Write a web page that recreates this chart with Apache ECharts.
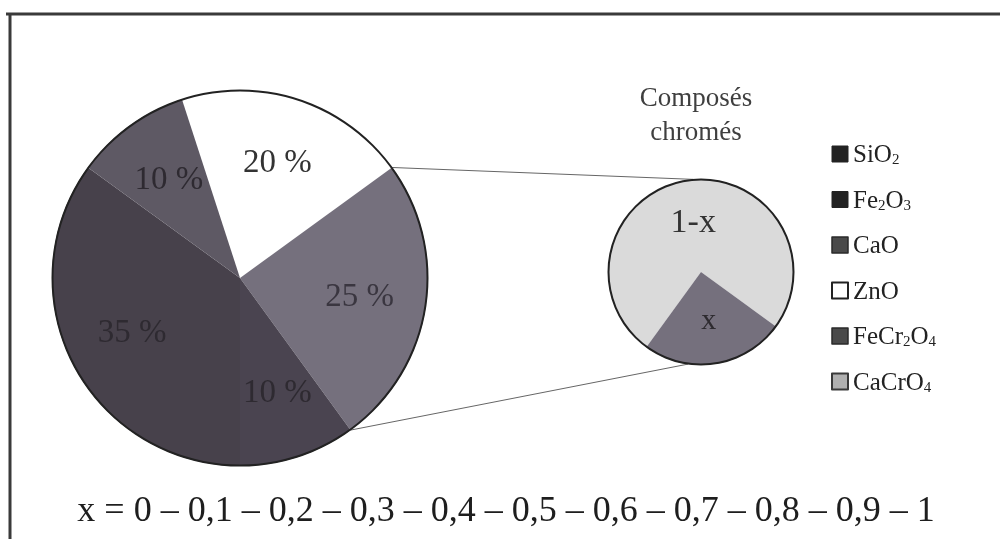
<!DOCTYPE html>
<html>
<head>
<meta charset="utf-8">
<script src="https://cdn.jsdelivr.net/npm/echarts@6/dist/echarts.min.js"></script>
<style>
html,body{margin:0;padding:0;background:#fff;}
#chart{width:1000px;height:539px;}
</style>
</head>
<body>
<div id="chart"></div>
<script>
// ---- data ----
const mainNames = ['ZnO', 'Composés chromés', 'Fe2O3', 'SiO2', 'CaO'];
const mainValues = [20, 25, 10, 35, 10];
const smallNames = ['CaCrO4', 'FeCr2O4'];
const smallValues = [0.75, 0.25];
const smallLabels = ['1-x', 'x'];
const legendNames = ['SiO2', 'Fe2O3', 'CaO', 'ZnO', 'FeCr2O4', 'CaCrO4'];
const xSteps = ['0', '0,1', '0,2', '0,3', '0,4', '0,5', '0,6', '0,7', '0,8', '0,9', '1'];

// ---- styles / layout ----
const FONT = "'Liberation Serif', 'DejaVu Serif', serif";
const sliceColors = {
  'ZnO': '#ffffff', 'Composés chromés': '#75707d', 'Fe2O3': '#4a4450',
  'SiO2': '#47414b', 'CaO': '#5e5964', 'CaCrO4': '#dadada', 'FeCr2O4': '#75707d'
};
const labelColors = {
  'ZnO': '#333', 'Composés chromés': '#3a3640', 'Fe2O3': '#2e2a31',
  'SiO2': '#2e2a31', 'CaO': '#2e2a31'
};
const legendColors = {
  'SiO2': ['#222', '#222', 1], 'Fe2O3': ['#222', '#222', 1], 'CaO': ['#4a4a4a', '#2a2a2a', 1.5],
  'ZnO': ['#fff', '#222', 2], 'FeCr2O4': ['#4a4a4a', '#2a2a2a', 1.5], 'CaCrO4': ['#b0b0b0', '#3a3a3a', 2]
};
const MAIN_C = [240, 278], MAIN_R = 188, MAIN_START = 108, MAIN_LABEL_R = 236;
const SMALL_C = [701, 272], SMALL_R = 93, SMALL_START = 234;

function pt(c, r, echartsAngleDeg) {
  const a = echartsAngleDeg * Math.PI / 180;
  return [c[0] + r * Math.cos(a), c[1] - r * Math.sin(a)];
}
const mainTotal = mainValues.reduce((a, b) => a + b, 0);
const chrIdx = mainNames.indexOf('Composés chromés');
let before = 0; for (let i = 0; i < chrIdx; i++) before += mainValues[i];
const aStart = MAIN_START - before / mainTotal * 360;
const aEnd = MAIN_START - (before + mainValues[chrIdx]) / mainTotal * 360;
const p1 = pt(MAIN_C, MAIN_R, aStart), p2 = pt(MAIN_C, MAIN_R, aEnd);
const q1 = pt(SMALL_C, SMALL_R, 95), q2 = pt(SMALL_C, SMALL_R, 262);

function subFmt(name) {
  return name.replace(/(\d+)|([^\d]+)/g, (m, d, t) => d ? '{s|' + d + '}' : '{n|' + t + '}');
}

const chart = echarts.init(document.getElementById('chart'), null, {renderer: 'canvas'});
chart.setOption({
  animation: false,
  backgroundColor: '#fff',
  legend: {
    orient: 'vertical', left: 826, top: 138,
    itemWidth: 16, itemHeight: 16, itemGap: 20.5,
    icon: 'rect',
    data: legendNames.map(n => ({
      name: n,
      itemStyle: {color: legendColors[n][0], borderColor: legendColors[n][1], borderWidth: legendColors[n][2]}
    })),
    formatter: subFmt,
    textStyle: {
      color: '#222', fontFamily: FONT, fontSize: 25,
      rich: {
        n: {fontSize: 25, lineHeight: 28, fontFamily: FONT, color: '#222', verticalAlign: 'bottom'},
        s: {fontSize: 15, lineHeight: 15, fontFamily: FONT, color: '#222', verticalAlign: 'bottom'}
      }
    },
    selectedMode: false
  },
  series: [
    {
      type: 'pie', center: MAIN_C, radius: [0, MAIN_R], startAngle: MAIN_START,
      clockwise: true, silent: true,
      label: {show: false}, labelLine: {show: false},
      itemStyle: {borderWidth: 0},
      data: mainNames.map((n, i) => ({name: n, value: mainValues[i], itemStyle: {color: sliceColors[n]}}))
    },
    {
      // transparent twin of the main pie that only carries the percentage labels
      type: 'pie', center: MAIN_C, radius: [0, MAIN_LABEL_R], startAngle: MAIN_START,
      clockwise: true, silent: true, avoidLabelOverlap: false,
      label: {position: 'inside', formatter: '{c} %', fontFamily: FONT, fontSize: 33},
      labelLine: {show: false},
      itemStyle: {color: 'rgba(0,0,0,0)', borderWidth: 0},
      data: mainNames.map((n, i) => ({name: n, value: mainValues[i], label: {color: labelColors[n]}}))
    },
    {
      type: 'pie', center: MAIN_C, radius: [MAIN_R - 1.5, MAIN_R + 0.5], silent: true,
      label: {show: false}, labelLine: {show: false},
      data: [{name: '_ring1', value: 1, itemStyle: {color: '#222'}}]
    },
    {
      type: 'pie', center: SMALL_C, radius: [0, SMALL_R], startAngle: SMALL_START,
      clockwise: true, silent: true, avoidLabelOverlap: false,
      label: {position: 'inside', fontFamily: FONT, fontSize: 32, color: '#333'},
      labelLine: {show: false},
      itemStyle: {borderWidth: 0},
      data: smallNames.map((n, i) => ({
        name: n, value: smallValues[i], itemStyle: {color: sliceColors[n]},
        label: {formatter: smallLabels[i], fontSize: i === 0 ? 34 : 30, color: i === 0 ? '#333' : '#2e2b30'}
      }))
    },
    {
      type: 'pie', center: SMALL_C, radius: [SMALL_R - 1.5, SMALL_R + 0.5], silent: true,
      label: {show: false}, labelLine: {show: false},
      data: [{name: '_ring2', value: 1, itemStyle: {color: '#222'}}]
    }
  ],
  graphic: [
    {type: 'line', shape: {x1: 6, y1: 14, x2: 1000, y2: 14}, style: {stroke: '#3a3a3a', lineWidth: 3}, silent: true},
    {type: 'line', shape: {x1: 10, y1: 13, x2: 10, y2: 539}, style: {stroke: '#3a3a3a', lineWidth: 3}, silent: true},
    {type: 'line', shape: {x1: p1[0], y1: p1[1], x2: q1[0], y2: q1[1]}, style: {stroke: '#666', lineWidth: 1}, silent: true},
    {type: 'line', shape: {x1: p2[0], y1: p2[1], x2: q2[0], y2: q2[1]}, style: {stroke: '#666', lineWidth: 1}, silent: true},
    {type: 'text', style: {x: 696, y: 82, text: 'Composés\nchromés', textAlign: 'center', font: '27px ' + FONT, fill: '#3f3f3f', lineHeight: 34}, silent: true},
    {type: 'text', style: {x: 506, y: 512, text: 'x = ' + xSteps.join(' – '), textAlign: 'center', textVerticalAlign: 'middle', font: '36px ' + FONT, fill: '#1e1e1e'}, silent: true}
  ]
});
</script>
</body>
</html>
